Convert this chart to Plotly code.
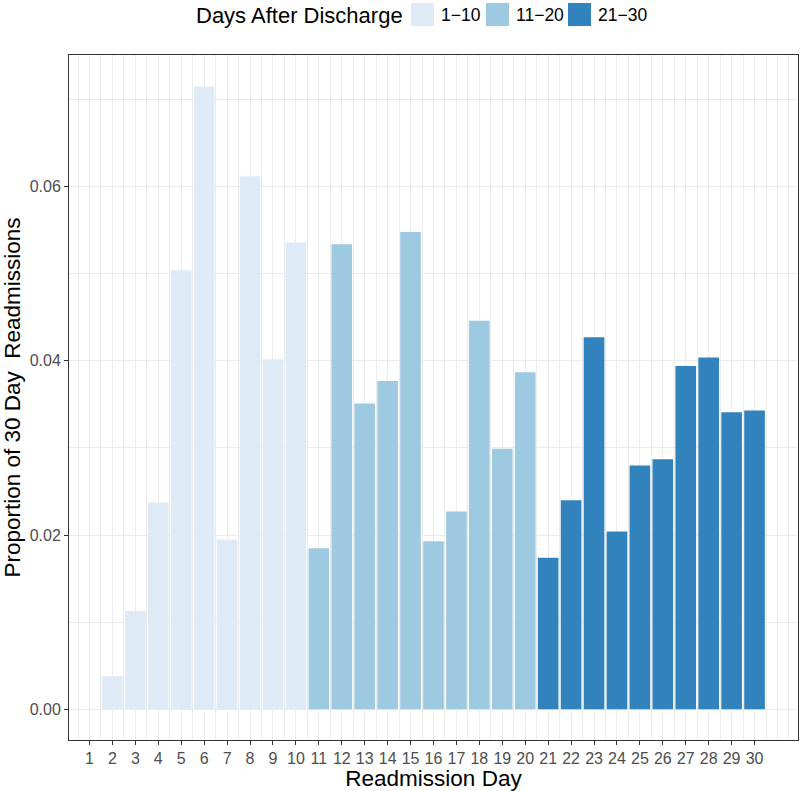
import plotly.graph_objects as go

days = list(range(1, 31))
proportions = [
    0.0, 0.0038, 0.0113, 0.02375, 0.0504, 0.0715, 0.0195, 0.0612, 0.0402, 0.0536,
    0.0185, 0.0534, 0.0351, 0.0377, 0.0548, 0.0193, 0.0227, 0.0446, 0.0299, 0.0387,
    0.0174, 0.0240, 0.0427, 0.0204, 0.0280, 0.0287, 0.0394, 0.0404, 0.0341, 0.0343,
]
groups = ["1\u221210", "11\u221220", "21\u221230"]
group_colors = ["#DEEBF7", "#9ECAE1", "#3182BD"]
legend_title = "Days After Discharge"
y_ticks = [0.0, 0.02, 0.04, 0.06]

FONT = "Liberation Sans"

def group_of(d):
    return 0 if d <= 10 else (1 if d <= 20 else 2)

fig = go.Figure()
for gi, gname in enumerate(groups):
    xs = [d for d in days if group_of(d) == gi]
    ys = [proportions[d - 1] for d in xs]
    fig.add_trace(go.Bar(
        x=xs, y=ys, name=gname, width=0.9,
        marker=dict(color=group_colors[gi], line=dict(width=0)),
        showlegend=False,
    ))

W, H = 800, 791
ml, mr, mt, mb = 69, 2, 55, 51
pw, ph = W - ml - mr, H - mt - mb

def px_to_paper_x(px):
    return (px - ml) / pw

def px_to_paper_y(py):
    return (H - mb - py) / ph

# manual legend (ggplot-style, top)
key_x0 = [411, 486, 568]
shapes = []
annotations = [dict(
    text=legend_title, x=px_to_paper_x(405), y=px_to_paper_y(15),
    xref="paper", yref="paper",
    showarrow=False, xanchor="right", yanchor="middle",
    font=dict(family=FONT, size=22, color="#000000"),
)]
for gi, gname in enumerate(groups):
    x0 = key_x0[gi]
    shapes.append(dict(
        type="rect", xref="paper", yref="paper",
        x0=px_to_paper_x(x0), x1=px_to_paper_x(x0 + 23),
        y0=px_to_paper_y(3), y1=px_to_paper_y(26),
        fillcolor=group_colors[gi], line=dict(width=0), layer="above",
    ))
    annotations.append(dict(
        text=gname, x=px_to_paper_x(x0 + 28), y=px_to_paper_y(15),
        xref="paper", yref="paper", showarrow=False,
        xanchor="left", yanchor="middle",
        font=dict(family=FONT, size=17.5, color="#000000"),
    ))

fig.update_layout(
    width=W, height=H,
    margin=dict(l=ml, r=mr, t=mt, b=mb),
    paper_bgcolor="white", plot_bgcolor="white",
    barmode="overlay",
    shapes=shapes, annotations=annotations,
    font=dict(family=FONT),
)
fig.update_xaxes(
    range=[0.105, 31.895],
    tickmode="array", tickvals=days, ticktext=[str(d) for d in days],
    ticks="outside", ticklen=4, tickcolor="#333333", tickwidth=1,
    tickfont=dict(family=FONT, size=16, color="#4D4D4D"),
    showgrid=True, gridcolor="#EBEBEB", gridwidth=1,
    minor=dict(tick0=0.5, dtick=0.5, showgrid=True, gridcolor="#EBEBEB", gridwidth=0.6, ticks=""),
    showline=True, linecolor="#333333", linewidth=1, mirror=True,
    zeroline=False,
    title=dict(text="Readmission Day", font=dict(family=FONT, size=22.5, color="#000000"), standoff=3),
)
fig.update_yaxes(
    range=[-0.00352, 0.07511],
    tickmode="array", tickvals=y_ticks, ticktext=[f"{v:.2f}" for v in y_ticks],
    ticks="outside", ticklen=4, tickcolor="#333333", tickwidth=1,
    tickfont=dict(family=FONT, size=16, color="#4D4D4D"),
    showgrid=True, gridcolor="#EBEBEB", gridwidth=1,
    minor=dict(tick0=0.0, dtick=0.01, showgrid=True, gridcolor="#EBEBEB", gridwidth=0.6, ticks=""),
    showline=True, linecolor="#333333", linewidth=1, mirror=True,
    zeroline=False,
    title=dict(text="Proportion of 30 Day\u00a0 Readmissions", font=dict(family=FONT, size=22.5, color="#000000"), standoff=5),
)

fig.write_html(
    "out.html",
    config={"displayModeBar": False},
    post_script="document.body.style.margin='0px';document.body.style.overflow='hidden';",
)
